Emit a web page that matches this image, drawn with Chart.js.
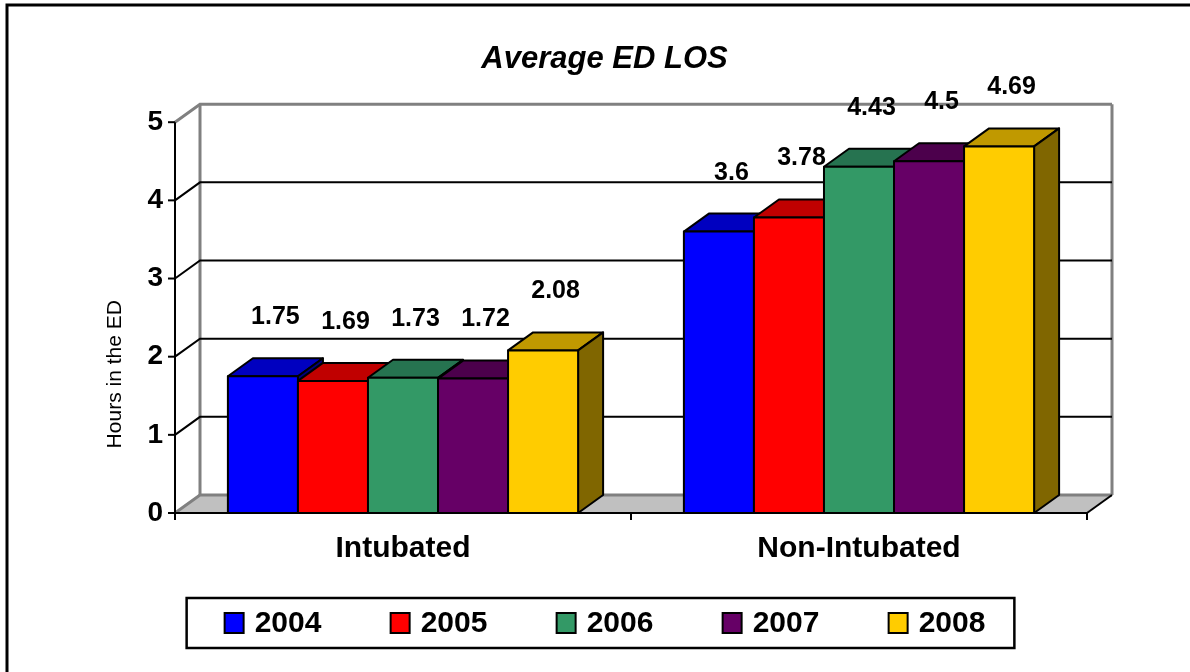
<!DOCTYPE html>
<html>
<head>
<meta charset="utf-8">
<title>Average ED LOS</title>
<script src="https://cdn.jsdelivr.net/npm/chart.js@4.4.1/dist/chart.umd.min.js"></script>
<style>
    html, body { margin: 0; padding: 0; background: #ffffff; }
    #wrap { width: 1190px; height: 672px; }
</style>
</head>
<body>
<div id="wrap"><canvas id="myChart" width="1190" height="672"></canvas></div>
<script>
// data
const categories = ['Intubated', 'Non-Intubated'];
const years = ['2004', '2005', '2006', '2007', '2008'];
const values2004 = [1.75, 3.6];
const values2005 = [1.69, 3.78];
const values2006 = [1.73, 4.43];
const values2007 = [1.72, 4.5];
const values2008 = [2.08, 4.69];
const yTicks = [0, 1, 2, 3, 4, 5];

const seriesValues = [values2004, values2005, values2006, values2007, values2008];

// colours: front face, top face, right face
const frontColors = ['#0000ff', '#ff0000', '#339966', '#660066', '#ffcc00'];
const topColors = ['#0000c0', '#c00000', '#267350', '#4c004c', '#c09900'];
const sideColors = ['#000080', '#800000', '#1a4d33', '#330033', '#806600'];

const FONT = '"Liberation Sans", Arial, sans-serif';
const DX = 25, DY = -18; // depth of the 3d box

function poly(ctx, pts, fill, stroke, lw) {
    ctx.beginPath();
    ctx.moveTo(pts[0][0], pts[0][1]);
    for (let i = 1; i < pts.length; i++) ctx.lineTo(pts[i][0], pts[i][1]);
    ctx.closePath();
    if (fill) { ctx.fillStyle = fill; ctx.fill(); }
    if (stroke) { ctx.strokeStyle = stroke; ctx.lineWidth = lw || 2; ctx.lineJoin = 'round'; ctx.stroke(); }
}

function line(ctx, pts, color, lw) {
    ctx.beginPath();
    ctx.moveTo(pts[0][0], pts[0][1]);
    for (let i = 1; i < pts.length; i++) ctx.lineTo(pts[i][0], pts[i][1]);
    ctx.strokeStyle = color;
    ctx.lineWidth = lw;
    ctx.stroke();
}

const chart3d = {
    id: 'chart3d',
    beforeDraw(chart) {
        const ctx = chart.ctx;
        ctx.save();
        // outer frame of the picture
        line(ctx, [[7, 672], [7, 5], [1190, 5]], '#000', 3);
        ctx.restore();
    },
    beforeDatasetsDraw(chart) {
        const { ctx, chartArea: a, scales: { y } } = chart;
        ctx.save();
        // floor
        poly(ctx, [[a.left, a.bottom], [a.right, a.bottom], [a.right + DX, a.bottom + DY], [a.left + DX, a.bottom + DY]], '#c0c0c0');
        // back wall edges
        line(ctx, [[a.left + DX, a.top + DY], [a.left + DX, a.bottom + DY]], '#808080', 3);
        line(ctx, [[a.right + DX, a.top + DY], [a.right + DX, a.bottom + DY]], '#808080', 3);
        // gridlines on the back wall
        yTicks.forEach(v => {
            const py = y.getPixelForValue(v);
            const edge = v === yTicks[0] || v === yTicks[yTicks.length - 1];
            line(ctx, [[a.left, py], [a.left + DX, py + DY], [a.right + DX, py + DY]], edge ? '#808080' : '#000', edge ? 3 : 2);
            line(ctx, [[a.left - 7, py], [a.left, py]], '#000', 2);
        });
        // floor right edge
        line(ctx, [[a.right, a.bottom], [a.right + DX, a.bottom + DY]], '#000', 2);
        // front axes
        line(ctx, [[a.left, a.top], [a.left, a.bottom], [a.right, a.bottom]], '#000', 2);
        // category tick marks
        const step = (a.right - a.left) / categories.length;
        for (let i = 0; i <= categories.length; i++) {
            const px = a.left + i * step;
            line(ctx, [[px, a.bottom], [px, a.bottom + 7]], '#000', 2);
        }
        // y axis title
        ctx.translate(a.left - 60, a.bottom - 0.355 * (a.bottom - a.top));
        ctx.rotate(-Math.PI / 2);
        ctx.font = '21px ' + FONT;
        ctx.fillStyle = '#000';
        ctx.textAlign = 'center';
        ctx.textBaseline = 'middle';
        ctx.fillText('Hours in the ED', 0, 0);
        ctx.restore();
    },
    beforeDatasetDraw() {
        // boxes are drawn below, left to right, so they overlap properly
        return false;
    },
    afterDatasetsDraw(chart) {
        const ctx = chart.ctx;
        ctx.save();
        chart.data.datasets.forEach((ds, i) => {
            chart.getDatasetMeta(i).data.forEach(bar => {
                const l = bar.x - bar.width / 2, r = bar.x + bar.width / 2, t = bar.y, b = bar.base;
                poly(ctx, [[l, t], [l + DX, t + DY], [r + DX, t + DY], [r, t]], topColors[i], '#000', 2);
                poly(ctx, [[r, t], [r + DX, t + DY], [r + DX, b + DY], [r, b]], sideColors[i], '#000', 2);
                poly(ctx, [[l, t], [r, t], [r, b], [l, b]], frontColors[i], '#000', 2);
            });
        });
        // value labels
        ctx.font = 'bold 25px ' + FONT;
        ctx.fillStyle = '#000';
        ctx.textAlign = 'center';
        ctx.textBaseline = 'middle';
        chart.data.datasets.forEach((ds, i) => {
            chart.getDatasetMeta(i).data.forEach((bar, j) => {
                ctx.fillText(String(ds.data[j]), bar.x + DX / 2, bar.y - 59);
            });
        });
        ctx.restore();
    },
    afterDraw(chart) {
        // legend in a box under the chart
        const ctx = chart.ctx;
        const ds = chart.data.datasets;
        ctx.save();
        ctx.font = 'bold 30px ' + FONT;
        ctx.textBaseline = 'middle';
        ctx.textAlign = 'left';
        const boxW = 19, boxH = 20, gap = 11, itemStep = 166;
        const lastW = ctx.measureText(ds[ds.length - 1].label).width;
        const total = (ds.length - 1) * itemStep + boxW + gap + lastW;
        const cy = chart.height - 49;
        let x0 = chart.width / 2 + 10 - total / 2;
        ds.forEach((d, i) => {
            const bx = x0 + i * itemStep;
            ctx.fillStyle = d.backgroundColor;
            ctx.fillRect(bx, cy - boxH / 2, boxW, boxH);
            ctx.strokeStyle = '#000';
            ctx.lineWidth = 2;
            ctx.strokeRect(bx, cy - boxH / 2, boxW, boxH);
            ctx.fillStyle = '#000';
            ctx.fillText(d.label, bx + boxW + gap, cy + 1);
        });
        ctx.lineWidth = 2.5;
        ctx.strokeRect(x0 - 38, cy - 25, total + 38 + 29, 50);
        ctx.restore();
    }
};

const ctx = document.getElementById('myChart').getContext('2d');
const chart = new Chart(ctx, {
    type: 'bar',
    data: {
        labels: categories,
        datasets: years.map((yr, i) => ({
            label: yr,
            data: seriesValues[i],
            backgroundColor: frontColors[i],
            borderColor: '#000000',
            borderWidth: 2,
            categoryPercentage: 0.768,
            barPercentage: 1.0
        }))
    },
    options: {
        responsive: false,
        animation: false,
        events: [],
        layout: { padding: { left: 122, right: 103, top: 0, bottom: 105 } },
        plugins: {
            title: {
                display: true,
                text: 'Average ED LOS',
                color: '#000',
                font: { family: FONT, size: 31, weight: 'bold', style: 'italic' },
                padding: { top: 41, bottom: 44 }
            },
            legend: { display: false },
            tooltip: { enabled: false }
        },
        scales: {
            x: {
                grid: { display: false, drawTicks: false },
                border: { display: false },
                ticks: { color: '#000', font: { family: FONT, size: 30, weight: 'bold' }, padding: 18 },
                afterFit(scale) { scale.height = 54; }
            },
            y: {
                min: 0,
                max: 5,
                grid: { display: false, drawTicks: false },
                border: { display: false },
                ticks: { color: '#000', font: { family: FONT, size: 28, weight: 'bold' }, padding: 12 },
                afterBuildTicks(scale) { scale.ticks = yTicks.map(v => ({ value: v })); },
                afterFit(scale) { scale.width = 53; }
            }
        }
    },
    plugins: [chart3d]
});
</script>
</body>
</html>
